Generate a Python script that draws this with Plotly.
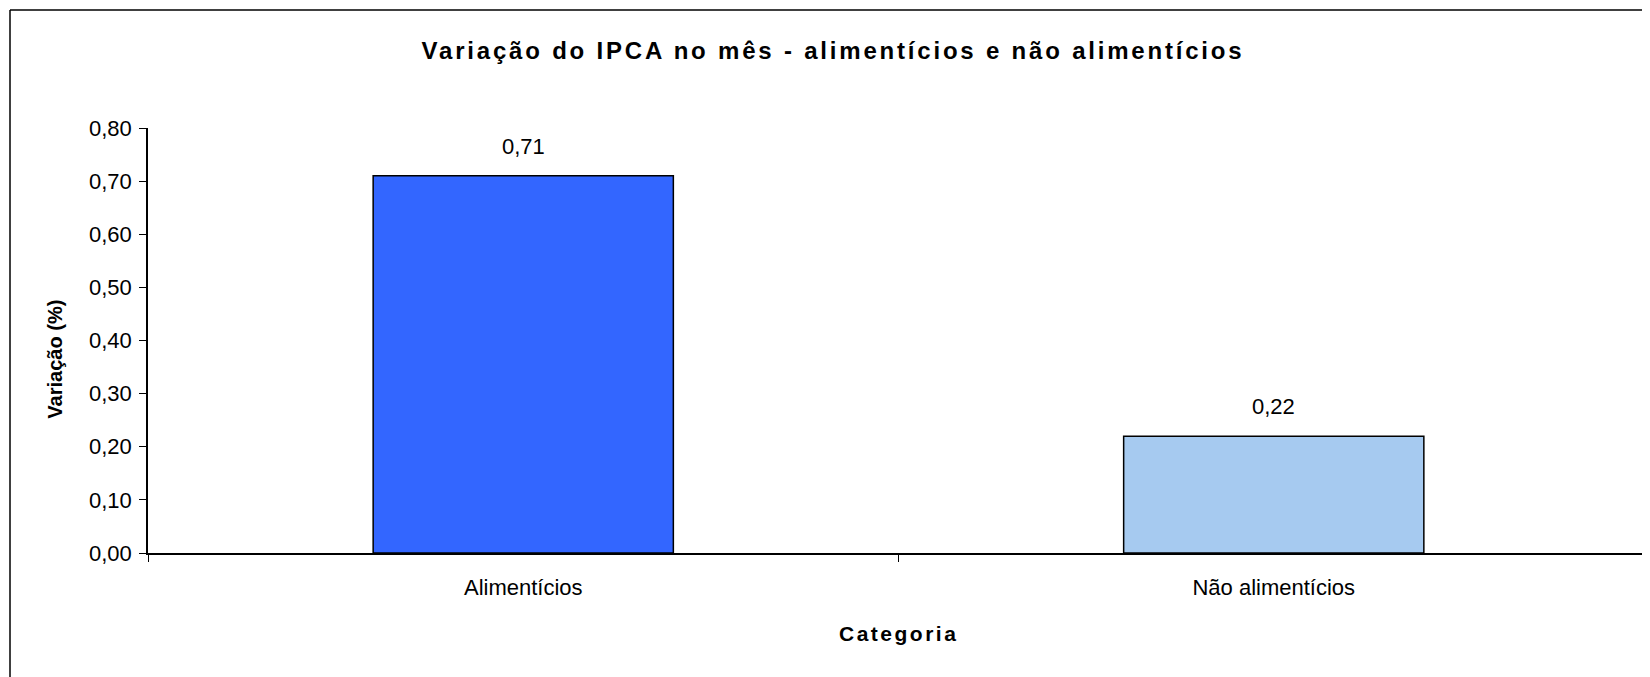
import plotly.graph_objects as go

# valores
categorias = ["Alimentícios", "Não alimentícios"]
variacao = [0.71, 0.22]
cores = ["#3366FF", "#A6CAF0"]

# a página tem 8 px de margem no body: a figura é deslocada e encolhida para caber
W, H = 1642, 669
L, R, T, B = 140, 1, 120, 124
FONT = "Arial, Liberation Sans, sans-serif"
pw, ph = W - L - R, H - T - B

fig = go.Figure()
fig.add_trace(go.Bar(
    x=categorias, y=variacao,
    width=0.4,
    marker=dict(color=cores, line=dict(color="black", width=1.5)),
    hoverinfo="x+y",
))

# rótulos de dados acima das barras
for c, v in zip(categorias, variacao):
    fig.add_annotation(x=c, y=v, text=f"{v:.2f}".replace(".", ","),
                       showarrow=False, yanchor="bottom", yshift=15,
                       font=dict(size=22, color="black", family=FONT))

# moldura (só topo e lado esquerdo aparecem no recorte)
fx = (2 - L) / pw
fy = (H - B - 2) / ph
fig.add_shape(type="line", xref="paper", yref="paper", x0=fx, x1=(W - L) / pw, y0=fy, y1=fy,
              line=dict(color="black", width=1.5))
fig.add_shape(type="line", xref="paper", yref="paper", x0=fx, x1=fx, y0=-1, y1=fy,
              line=dict(color="black", width=1.5))

# títulos dos eixos
fig.add_annotation(xref="paper", yref="paper", x=(47 - L) / pw, y=0.455,
                   text="Variação (%)", textangle=-90, showarrow=False,
                   xanchor="center", yanchor="middle",
                   font=dict(size=20, family=FONT, weight="bold", color="black"))
fig.add_annotation(xref="paper", yref="paper", x=0.5, y=(H - B - 625) / ph,
                   text='<span style="letter-spacing:2.5px">Categoria</span>',
                   showarrow=False, xanchor="center", yanchor="middle",
                   font=dict(size=21, family=FONT, weight="bold", color="black"))

title_txt = "Variação do IPCA no mês - alimentícios e não alimentícios"
fig.update_layout(
    width=W, height=H,
    margin=dict(l=L, r=R, t=T, b=B),
    paper_bgcolor="white", plot_bgcolor="white",
    separators=",.",
    showlegend=False,
    font=dict(family=FONT, color="black", size=22),
    title=dict(text='<span style="letter-spacing:2.8px">' + title_txt + "</span>",
               x=825 / W, xanchor="center",
               y=1 - 43 / H, yanchor="middle", yref="container",
               font=dict(size=24, family=FONT, weight="bold", color="black")),
)
fig.update_xaxes(
    type="category", range=[-0.5, 1.5], automargin=False,
    showline=True, linecolor="black", linewidth=1.5,
    ticks="outside", tickson="boundaries", ticklen=7, tickcolor="black", tickwidth=1,
    tickfont=dict(size=22, family=FONT), ticklabelstandoff=14,
    showgrid=False, zeroline=False,
)
fig.update_yaxes(
    range=[0, 0.8], dtick=0.1, tick0=0, tickformat=".2f", automargin=False,
    showline=True, linecolor="black", linewidth=1.5,
    ticks="outside", ticklen=7, tickcolor="black", tickwidth=1,
    tickfont=dict(size=22, family=FONT), ticklabelstandoff=3,
    showgrid=False, zeroline=False,
)

fig.write_html("out.html")
